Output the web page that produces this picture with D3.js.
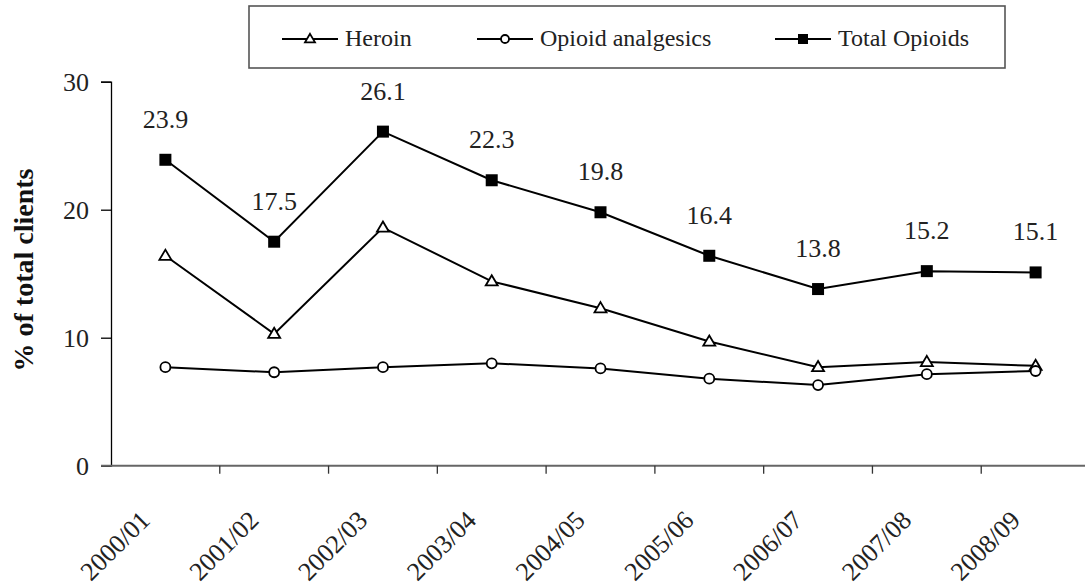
<!DOCTYPE html>
<html>
<head>
<meta charset="utf-8">
<script src="https://cdn.jsdelivr.net/npm/d3@7"></script>
</head>
<body style="margin:0;background:#fff">
<svg id="chart" width="1085" height="588"></svg>
<script>
// Share of total clients (%) by financial year
const years = ["2000/01", "2001/02", "2002/03", "2003/04", "2004/05", "2005/06", "2006/07", "2007/08", "2008/09"];
const heroin = [16.4, 10.3, 18.6, 14.4, 12.3, 9.7, 7.7, 8.1, 7.8];
const analgesics = [7.7, 7.3, 7.7, 8.0, 7.6, 6.8, 6.3, 7.15, 7.4];
const totalOpioids = [23.9, 17.5, 26.1, 22.3, 19.8, 16.4, 13.8, 15.2, 15.1];
const yTicks = [0, 10, 20, 30];

const series = [
  { name: "Heroin", values: heroin, marker: "triangle" },
  { name: "Opioid analgesics", values: analgesics, marker: "circle" },
  { name: "Total Opioids", values: totalOpioids, marker: "square" }
];

const FONT = "'Liberation Serif', Tinos, 'Times New Roman', serif";
const svg = d3.select("#chart");

const x = d3.scaleBand().domain(years).range([111, 1090]).padding(0);
const y = d3.scaleLinear().domain([0, 30]).range([465.7, 81.7]);
const cx = d => x(d) + x.bandwidth() / 2;

// y axis
const yAxis = svg.append("g").attr("transform", "translate(111,0)")
  .call(d3.axisLeft(y).tickValues(yTicks).tickSize(10).tickPadding(12).tickFormat(d3.format("d")));
yAxis.attr("font-family", null).attr("font-size", null);
yAxis.select(".domain").attr("stroke", "#000").attr("stroke-width", 1.3);
yAxis.selectAll(".tick line").attr("stroke", "#000").attr("stroke-width", 1.3);
yAxis.selectAll(".tick text").attr("fill", "#222").attr("font-size", 26)
  .style("font-family", FONT);

// x axis: tick marks sit between categories
const xg = svg.append("g");
xg.append("line").attr("x1", 101).attr("x2", 1090)
  .attr("y1", y(0)).attr("y2", y(0)).attr("stroke", "#666").attr("stroke-width", 2);
xg.selectAll("line.xt").data(years.slice(1)).join("line").attr("class", "xt")
  .attr("x1", d => x(d)).attr("x2", d => x(d))
  .attr("y1", y(0)).attr("y2", y(0) + 8).attr("stroke", "#333").attr("stroke-width", 1.3);
xg.selectAll("text").data(years).join("text")
  .attr("transform", d => `translate(${cx(d) - 14},${y(0) + 56}) rotate(-45)`)
  .attr("text-anchor", "end").attr("fill", "#222").attr("font-size", 26)
  .style("font-family", FONT).text(d => d);

// y axis title
svg.append("text")
  .attr("transform", "translate(33,270) rotate(-90)")
  .attr("text-anchor", "middle").attr("fill", "#111")
  .attr("font-size", 28).attr("font-weight", "bold")
  .style("font-family", FONT).text("% of total clients");

// markers
function drawMarker(sel, type, size) {
  if (type === "square") {
    sel.append("rect").attr("x", -size / 2).attr("y", -size / 2)
      .attr("width", size).attr("height", size).attr("fill", "#000");
  } else if (type === "circle") {
    sel.append("circle").attr("r", size / 2 - 1).attr("fill", "#fff")
      .attr("stroke", "#000").attr("stroke-width", 1.8);
  } else {
    const h = size * 0.85, w = size / 2;
    sel.append("path").attr("d", `M0,${-h * 0.6}L${w},${h * 0.4}L${-w},${h * 0.4}Z`)
      .attr("fill", "#fff").attr("stroke", "#000").attr("stroke-width", 1.8);
  }
}

const line = d3.line().x(d => cx(d.year)).y(d => y(d.value));

series.forEach(s => {
  const pts = years.map((yr, i) => ({ year: yr, value: s.values[i] }));
  svg.append("path").datum(pts).attr("d", line)
    .attr("fill", "none").attr("stroke", "#000").attr("stroke-width", 2);
  svg.append("g").selectAll("g").data(pts).join("g")
    .attr("transform", d => `translate(${cx(d.year)},${y(d.value)})`)
    .each(function () { drawMarker(d3.select(this), s.marker, 12); });
});

// value labels for total opioids
svg.append("g").selectAll("text").data(totalOpioids).join("text")
  .attr("x", (d, i) => cx(years[i])).attr("y", d => y(d) - 32)
  .attr("text-anchor", "middle").attr("fill", "#222").attr("font-size", 26)
  .style("font-family", FONT).text(d => d.toFixed(1));

// legend
const lg = svg.append("g");
lg.append("rect").attr("x", 249).attr("y", 6).attr("width", 756).attr("height", 62)
  .attr("fill", "#fff").attr("stroke", "#555").attr("stroke-width", 1.6);
const legendX = [282, 477, 775];
series.forEach((s, i) => {
  const g = lg.append("g").attr("transform", `translate(${legendX[i]},39)`);
  g.append("line").attr("x1", 0).attr("x2", 56).attr("stroke", "#000").attr("stroke-width", 2);
  const m = g.append("g").attr("transform", "translate(28,0)");
  drawMarker(m, s.marker, 10);
  g.append("text").attr("x", 63).attr("y", 7).attr("fill", "#222").attr("font-size", 24)
    .style("font-family", FONT).text(s.name);
});
</script>
</body>
</html>
